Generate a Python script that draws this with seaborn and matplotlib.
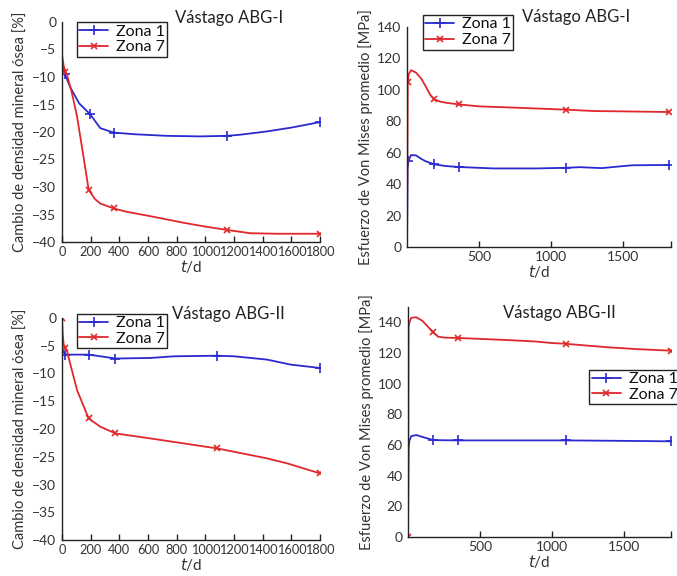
import matplotlib
matplotlib.use("Agg")
import matplotlib.pyplot as plt
import seaborn as sns

sns.set_style("ticks")
plt.rcParams['font.family'] = ['Lato', 'DejaVu Sans']

# ---------------- data ----------------
# Top-left: bone mineral density change, ABG-I
tl_z1_t = [0, 20, 60, 120, 197, 267, 360, 500, 731, 964, 1150, 1242, 1428, 1600, 1800]
tl_z1_v = [-7.5, -9.5, -12.0, -14.8, -16.8, -19.3, -20.1, -20.4, -20.7, -20.8, -20.7, -20.5, -19.9, -19.2, -18.2]
tl_z1_m = [1, 4, 6, 10, 14]
tl_z7_t = [0, 12, 23, 35, 70, 105, 150, 186, 230, 267, 360, 450, 615, 848, 1000, 1150, 1312, 1500, 1800]
tl_z7_v = [-6.0, -8.0, -9.0, -9.6, -13.0, -17.2, -24.5, -30.5, -32.2, -33.0, -33.9, -34.5, -35.3, -36.5, -37.2, -37.8, -38.4, -38.5, -38.5]
tl_z7_m = [2, 7, 10, 15, 18]

# Top-right: Von Mises stress, ABG-I
tr_z1_t = [0, 4, 10, 28, 62, 100, 131, 189, 270, 362, 600, 900, 1100, 1200, 1350, 1500, 1560, 1813]
tr_z1_v = [0, 50, 55, 58.5, 58.3, 56.0, 54.5, 52.6, 51.5, 50.9, 50.0, 50.0, 50.4, 50.8, 50.2, 51.5, 52.0, 52.2]
tr_z1_m = [2, 7, 9, 12, 17]
tr_z7_t = [0, 5, 12, 28, 62, 100, 131, 160, 189, 230, 270, 362, 500, 800, 1100, 1300, 1500, 1813]
tr_z7_v = [0, 105, 110, 112.5, 111.0, 107.0, 102.0, 97.0, 94.0, 92.5, 91.8, 90.7, 89.5, 88.5, 87.4, 86.5, 86.3, 85.9]
tr_z7_m = [1, 8, 11, 14, 17]

# Bottom-left: bone mineral density change, ABG-II
bl_z1_t = [0, 23, 100, 186, 268, 373, 617, 780, 1083, 1200, 1432, 1595, 1800]
bl_z1_v = [-5.7, -6.6, -6.6, -6.6, -6.9, -7.3, -7.2, -6.9, -6.8, -6.9, -7.5, -8.4, -9.0]
bl_z1_m = [1, 3, 5, 8, 12]
bl_z7_t = [0, 5, 12, 23, 35, 105, 186, 268, 373, 617, 850, 1083, 1200, 1432, 1572, 1800]
bl_z7_v = [0.0, -3.0, -4.8, -5.4, -6.0, -13.0, -18.1, -19.6, -20.8, -21.7, -22.6, -23.5, -24.1, -25.3, -26.2, -28.0]
bl_z7_m = [0, 3, 6, 8, 11, 15]

# Bottom-right: Von Mises stress, ABG-II
br_z1_t = [0, 4, 10, 23, 58, 117, 175, 350, 700, 1098, 1500, 1829]
br_z1_v = [0, 58, 63, 65.8, 66.5, 64.8, 63.2, 63.0, 63.0, 63.0, 62.7, 62.4]
br_z1_m = [6, 7, 9, 11]
br_z7_t = [0, 4, 10, 23, 58, 100, 140, 175, 210, 260, 350, 678, 888, 1000, 1098, 1379, 1600, 1829]
br_z7_v = [0, 137, 140, 143, 143.3, 141, 137, 133.5, 130.6, 130.0, 129.8, 128.5, 127.5, 126.5, 126.0, 123.8, 122.5, 121.5]
br_z7_m = [0, 7, 10, 14, 17]

panel_titles = ["Vástago ABG-I", "Vástago ABG-I", "Vástago ABG-II", "Vástago ABG-II"]
series_labels = ["Zona 1", "Zona 7"]
ylabel_bmd = "Cambio de densidad mineral ósea [%]"
ylabel_vm = "Esfuerzo de Von Mises promedio [MPa]"
xlabel = "$t$/d"

BLUE = "#2a2ad0"
RED = "#e0282c"
TXT = "#333333"

fig = plt.figure(figsize=(6.77, 5.76), dpi=100)
W, H = 677, 576

def add_ax(l, r, t, b):
    return fig.add_axes([l / W, 1 - b / H, (r - l) / W, (b - t) / H])

ax_tl = add_ax(62, 320, 22, 242)
ax_tr = add_ax(407, 671, 27, 247)
ax_bl = add_ax(62, 320, 318, 540)
ax_br = add_ax(408, 671, 307, 537)

def draw(ax, t1, v1, m1, t7, v7, m7):
    sns.lineplot(x=t1, y=v1, ax=ax, color=BLUE, lw=1.3, marker="+", markersize=7,
                 markeredgewidth=1.2, markeredgecolor=BLUE, markevery=m1,
                 label=series_labels[0], sort=False, estimator=None)
    sns.lineplot(x=t7, y=v7, ax=ax, color=RED, lw=1.3, marker="x", markersize=5,
                 markeredgewidth=1.2, markeredgecolor=RED, markevery=m7,
                 label=series_labels[1], sort=False, estimator=None)

draw(ax_tl, tl_z1_t, tl_z1_v, tl_z1_m, tl_z7_t, tl_z7_v, tl_z7_m)
draw(ax_tr, tr_z1_t, tr_z1_v, tr_z1_m, tr_z7_t, tr_z7_v, tr_z7_m)
draw(ax_bl, bl_z1_t, bl_z1_v, bl_z1_m, bl_z7_t, bl_z7_v, bl_z7_m)
draw(ax_br, br_z1_t, br_z1_v, br_z1_m, br_z7_t, br_z7_v, br_z7_m)

for ax in (ax_tl, ax_bl):
    ax.set_xlim(0, 1800)
    ax.set_ylim(-40, 0)
    ax.set_xticks(range(0, 1801, 200))
    ax.set_yticks(range(-40, 1, 5))
    ax.set_ylabel(ylabel_bmd, fontsize=10.5, color=TXT, labelpad=3)

for ax, ymax in ((ax_tr, 140), (ax_br, 150)):
    ax.set_xlim(0, 1830)
    ax.set_ylim(0, ymax)
    ax.set_xticks([500, 1000, 1500, 1830])
    ax.set_xticklabels(["500", "1000", "1500", ""])
    ax.set_yticks(range(0, 141, 20))
    ax.set_ylabel(ylabel_vm, fontsize=10.5, color=TXT, labelpad=3)

for ax in (ax_tl, ax_tr, ax_bl, ax_br):
    sns.despine(ax=ax)
    for s in ("left", "bottom"):
        ax.spines[s].set_color("#222222")
        ax.spines[s].set_linewidth(1.0)
    ax.tick_params(direction="in", length=4, width=1, labelsize=10,
                   labelcolor=TXT, colors="#222222", pad=3)
    ax.tick_params(axis="y", length=0, pad=4)
    ax.set_xlabel(xlabel, fontsize=11, color=TXT, labelpad=0)

for ax in (ax_tl, ax_bl):
    ax.tick_params(axis="x", labelsize=9.2)

# Titles
fig.text(175 / W, 1 - 18 / H, panel_titles[0], fontsize=12, color="#222222", va="center")
fig.text(522 / W, 1 - 17 / H, panel_titles[1], fontsize=12, color="#222222", va="center")
fig.text(172 / W, 1 - 314 / H, panel_titles[2], fontsize=12, color="#222222", va="center")
fig.text(503 / W, 1 - 313 / H, panel_titles[3], fontsize=12, color="#222222", va="center")

def legend(ax, loc, anchor):
    leg = ax.legend(loc=loc, bbox_to_anchor=anchor, fontsize=11.5, frameon=True,
                    fancybox=False, framealpha=1, edgecolor="#222222",
                    borderpad=0.15, labelspacing=0.1, handlelength=1.8,
                    handletextpad=0.5, borderaxespad=0)
    leg.get_frame().set_linewidth(1.0)
    for txt in leg.get_texts():
        txt.set_color("#111111")

legend(ax_tl, "upper left", (0.058, 1.0))
legend(ax_tr, "upper left", (0.06, 1.055))
legend(ax_bl, "upper left", (0.058, 1.02))
legend(ax_br, "center left", (0.69, 0.652))

fig.savefig("out.png", dpi=100)
